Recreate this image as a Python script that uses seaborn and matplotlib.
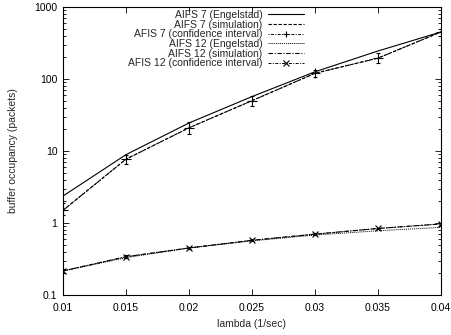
import numpy as np
import pandas as pd
import matplotlib
matplotlib.use("Agg")
import matplotlib.pyplot as plt
import seaborn as sns
from matplotlib.lines import Line2D
from matplotlib.ticker import FixedLocator, FixedFormatter, LogLocator, NullFormatter

lam = [0.01, 0.015, 0.02, 0.025, 0.03, 0.035, 0.04]
aifs7_eng = [2.37, 8.9, 24.5, 57, 126, 245, 450]
aifs7_sim = [1.5, 7.7, 21, 50, 120, 195, 450]
aifs7_lo = [1.3, 6.7, 17, 42, 105, 165, 400]
aifs7_hi = [1.9, 8.8, 25, 58, 135, 230, 500]
aifs12_eng = [0.215, 0.33, 0.45, 0.565, 0.68, 0.78, 0.87]
aifs12_sim = [0.216, 0.34, 0.45, 0.575, 0.70, 0.84, 0.97]
aifs12_lo = [0.205, 0.325, 0.435, 0.555, 0.68, 0.815, 0.94]
aifs12_hi = [0.228, 0.355, 0.465, 0.595, 0.72, 0.865, 1.0]
xticks = [0.01, 0.015, 0.02, 0.025, 0.03, 0.035, 0.04]
xticklabels = ["0.01", "0.015", "0.02", "0.025", "0.03", "0.035", "0.04"]
yticks = [0.1, 1, 10, 100, 1000]
yticklabels = ["0.1", "1", "10", "100", "1000"]
labels = ["AIFS 7 (Engelstad)", "AIFS 7 (simulation)", "AFIS 7 (confidence interval)",
          "AIFS 12 (Engelstad)", "AIFS 12 (simulation)", "AFIS 12 (confidence interval)"]

sns.set_style("ticks")
plt.rcParams['font.family'] = ['Liberation Sans', 'DejaVu Sans']
plt.rcParams['font.size'] = 7.5

fig = plt.figure(figsize=(4.52, 3.35), dpi=100)
ax = fig.add_axes([63/452, 1-295/335, (441-63)/452, (295-7)/335])

df = pd.DataFrame({"lam": lam, "e7": aifs7_eng, "s7": aifs7_sim,
                   "e12": aifs12_eng, "s12": aifs12_sim})
lw = 0.8
ls_s7 = (0, (3, 1.5))
ls_c7 = (0, (1, 1.5, 3, 1.5))
ls_e12 = (0, (1, 1))
ls_s12 = (0, (4, 1.5, 1, 1.5))
ls_c12 = (0, (3, 1.5, 1, 1.5))
sns.lineplot(data=df, x="lam", y="e7", ax=ax, color="black", lw=lw, legend=False)
sns.lineplot(data=df, x="lam", y="s7", ax=ax, color="black", lw=lw, ls=ls_s7, legend=False)
s7 = np.array(aifs7_sim)
ax.errorbar(lam, aifs7_sim, yerr=[s7 - np.array(aifs7_lo), np.array(aifs7_hi) - s7],
            color="black", lw=0.7, ls=ls_c7, marker="+", ms=7, mew=0.8,
            capsize=1.5, elinewidth=0.6)
sns.lineplot(data=df, x="lam", y="e12", ax=ax, color="black", lw=0.7, ls=ls_e12, legend=False)
sns.lineplot(data=df, x="lam", y="s12", ax=ax, color="black", lw=lw, ls=ls_s12, legend=False)
s12 = np.array(aifs12_sim)
ax.errorbar(lam, aifs12_sim, yerr=[s12 - np.array(aifs12_lo), np.array(aifs12_hi) - s12],
            color="black", lw=0.7, ls=ls_c12, marker="x", ms=4, mew=0.8,
            capsize=1.5, elinewidth=0.6)

ax.set_yscale("log")
ax.set_xlim(0.01, 0.04)
ax.set_ylim(0.1, 1000)
ax.xaxis.set_major_locator(FixedLocator(xticks))
ax.xaxis.set_major_formatter(FixedFormatter(xticklabels))
ax.yaxis.set_major_locator(FixedLocator(yticks))
ax.yaxis.set_major_formatter(FixedFormatter(yticklabels))
ax.yaxis.set_minor_locator(LogLocator(base=10, subs=np.arange(2, 10)))
ax.yaxis.set_minor_formatter(NullFormatter())
ax.tick_params(which="both", direction="in", top=True, right=True, colors="black",
               labelsize=7.5, width=0.6)
ax.tick_params(which="major", length=4, pad=4)
ax.tick_params(axis="x", which="major", pad=6)
ax.tick_params(which="minor", length=2)
for sp in ax.spines.values():
    sp.set_linewidth(0.8)
    sp.set_color("black")
ax.set_xlabel("lambda (1/sec)", fontsize=7.5, labelpad=4)
ax.set_ylabel("buffer occupancy (packets)", fontsize=7.5, labelpad=12)

handles = [
    Line2D([], [], color="black", lw=lw),
    Line2D([], [], color="black", lw=lw, ls=ls_s7),
    Line2D([], [], color="black", lw=0.7, ls=ls_c7, marker="+", ms=5, mew=0.8),
    Line2D([], [], color="black", lw=0.7, ls=ls_e12),
    Line2D([], [], color="black", lw=lw, ls=ls_s12),
    Line2D([], [], color="black", lw=0.7, ls=ls_c12, marker="x", ms=4, mew=0.8),
]
leg = ax.legend(handles, labels,
                loc="upper right", bbox_to_anchor=(304/452, 1 - 10/335), bbox_transform=fig.transFigure,
                frameon=False, markerfirst=False, numpoints=1,
                fontsize=7.5, labelspacing=-0.03, handlelength=3.5, handletextpad=0.5,
                borderaxespad=0, borderpad=0)
fig.savefig("out.png", dpi=100)
